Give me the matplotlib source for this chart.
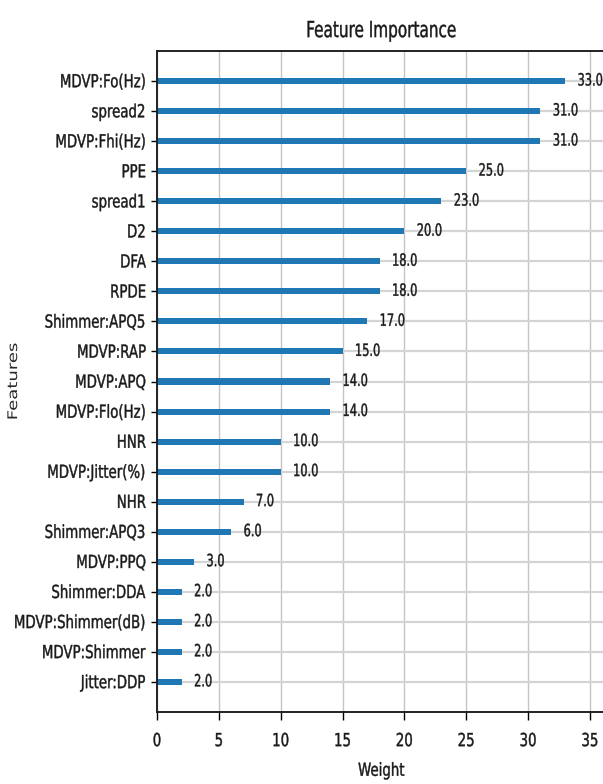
import matplotlib
matplotlib.use("Agg")
import matplotlib.pyplot as plt
from matplotlib.patheffects import AbstractPathEffect
from matplotlib.transforms import Affine2D

features = [
    "MDVP:Fo(Hz)", "spread2", "MDVP:Fhi(Hz)", "PPE", "spread1", "D2", "DFA",
    "RPDE", "Shimmer:APQ5", "MDVP:RAP", "MDVP:APQ", "MDVP:Flo(Hz)", "HNR",
    "MDVP:Jitter(%)", "NHR", "Shimmer:APQ3", "MDVP:PPQ", "Shimmer:DDA",
    "MDVP:Shimmer(dB)", "MDVP:Shimmer", "Jitter:DDP",
]
weights = [33, 31, 31, 25, 23, 20, 18, 18, 17, 15, 14, 14, 10, 10, 7, 6, 3,
           2, 2, 2, 2]
xticks = [0, 5, 10, 15, 20, 25, 30, 35]


class Stretch(AbstractPathEffect):
    """Scale glyph outlines about a fixed point (in text-path units)
    and give them a light outline in the text colour."""

    def __init__(self, sx=1.0, sy=1.0, y0=26.0, stroke=0.3):
        super().__init__()
        self.sx, self.sy, self.y0, self.stroke = sx, sy, y0, stroke

    def draw_path(self, renderer, gc, tpath, affine, rgbFace=None):
        ext = tpath.get_extents()
        x0 = ext.x0 + 0.5 * ext.width
        t = (Affine2D().translate(-x0, -self.y0)
             .scale(self.sx, self.sy).translate(x0, self.y0))
        gc0 = renderer.new_gc()
        gc0.copy_properties(gc)
        gc0.set_linewidth(self.stroke)
        renderer.draw_path(gc0, tpath, t + affine, rgbFace)
        gc0.restore()


FS = 9.6          # base text size
TALL = Stretch(sy=1.35)
TEXT_C = "#1a1a1a"

fig = plt.figure(figsize=(6.03, 7.84), dpi=100)
ax = fig.add_axes([157 / 603, 1 - 712 / 784, 449 / 603, 661 / 784])
ax.set_axisbelow(True)

# Most important feature at the top
feat_r = features[::-1]
w_r = weights[::-1]
ypos = list(range(len(feat_r)))

ax.barh(ypos, w_r, height=0.2, align="center", color="#1f77b4", zorder=2)
value_fx = Stretch(sy=1.48)
for y, w in zip(ypos, w_r):
    t = ax.text(w + 1, y, f"{float(w):.1f}", va="center", fontsize=8.2,
                color=TEXT_C, zorder=3)
    t.set_path_effects([value_fx])

ax.set_yticks(ypos)
ax.set_yticklabels(feat_r, fontsize=FS, color=TEXT_C)
ax.set_xticks(xticks)
ax.set_xticklabels([str(t) for t in xticks], fontsize=FS, color=TEXT_C)
ax.set_xlim(0, max(weights) * 1.1)
ax.set_ylim(-1, len(feat_r))
ax.tick_params(axis="y", length=4.5, width=1.0, pad=3.5)
ax.tick_params(axis="x", length=5.5, width=1.0, pad=11)
for lbl in ax.get_yticklabels() + ax.get_xticklabels():
    lbl.set_path_effects([TALL])

ax.xaxis.grid(True, color="#c4c4c4", linewidth=1.0)
ax.yaxis.grid(True, color="#d4d4d4", linewidth=1.6)
for s in ax.spines.values():
    s.set_linewidth(1.4)
    s.set_color("#222222")

title = ax.set_title("Feature Importance", fontsize=11, pad=10,
                     color=TEXT_C)
title.set_path_effects([Stretch(sy=1.45, y0=0.0)])
xl = ax.set_xlabel("Weight", fontsize=FS, labelpad=12, color=TEXT_C)
xl.set_path_effects([TALL])
yl = ax.set_ylabel("Features", fontsize=13, color="#2a2a2a")
ax.yaxis.set_label_coords(-0.30, 0.5)
yl.set_path_effects([Stretch(sy=0.74, stroke=0.0)])

fig.savefig("out.png", dpi=100)
